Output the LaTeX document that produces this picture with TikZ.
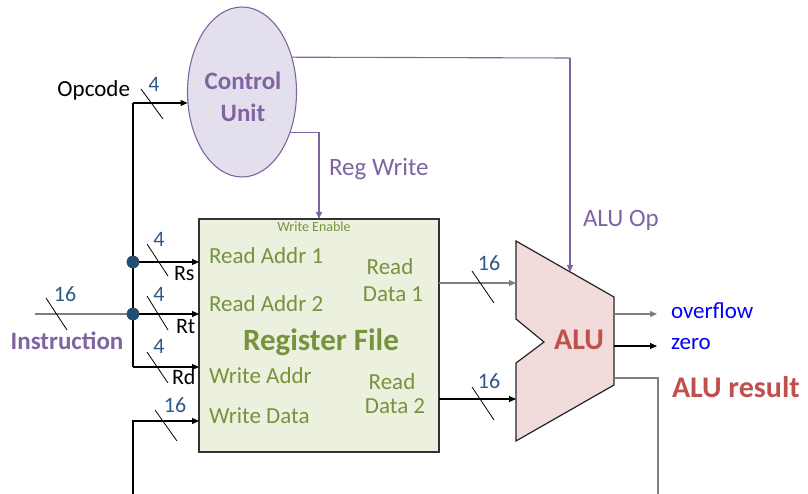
\documentclass[tikz,border=0pt]{standalone}
\usepackage{fontspec}
\setmainfont{Carlito}
\usetikzlibrary{arrows.meta,shapes.geometric}
\definecolor{cpurple}{HTML}{8064A2}
\definecolor{cufill}{HTML}{E4DFEC}
\definecolor{rfgreen}{HTML}{77933C}
\definecolor{rffill}{HTML}{EBF1DE}
\definecolor{alured}{HTML}{C0504D}
\definecolor{alufill}{HTML}{F2DCDB}
\definecolor{numblue}{HTML}{2E5A8A}
\definecolor{dotblue}{HTML}{1F4E79}
\definecolor{wgray}{HTML}{7F7F7F}
\begin{document}
\begin{tikzpicture}[x=1pt,y=-1pt,
  every node/.style={inner sep=0pt, outer sep=0pt},
  fsz/.style={font=\fontsize{#1}{#1}\selectfont},
  bfsz/.style={font=\fontsize{#1}{#1}\selectfont\bfseries},
  arr/.style={-{Triangle[length=7pt,width=6pt]}, line width=1.1pt},
  wire/.style={line width=1.1pt},
  slash/.style={line width=0.8pt},
  num/.style={fsz=22, text=numblue, anchor=base},
  sig/.style={fsz=22, text=black, anchor=base west},
  rflbl/.style={fsz=23, text=rfgreen, anchor=base west},
  rfout/.style={fsz=23, text=rfgreen, anchor=base},
  dot/.style={circle, fill=dotblue, draw=black!70, line width=0.6pt, minimum size=12pt}]
\useasboundingbox (0,0) rectangle (808,494);

% ---------- blocks ----------
\node[ellipse, draw=cpurple, fill=cufill, line width=1.1pt, minimum width=109pt, minimum height=170pt] (cu) at (242,92) {};
\node[bfsz=25, text=cpurple, anchor=base] (cut1) at (243,90) {Control};
\node[bfsz=25, text=cpurple, anchor=base] (cut2) at (243,122) {Unit};

\node[draw=black!80, fill=rffill, line width=1.5pt, minimum width=240pt, minimum height=233pt] (rf) at (319,335.5) {};
\node[fsz=14, text=rfgreen, anchor=base] (we) at (314,232) {Write Enable};
\node[rflbl] (ra1) at (209,264) {Read Addr 1};
\node[rflbl] (ra2) at (209,311) {Read Addr 2};
\node[rflbl] (wa) at (209,383) {Write Addr};
\node[rflbl] (wdl) at (209,423) {Write Data};
\node[bfsz=31, text=rfgreen, anchor=base] (rft) at (321,350) {Register File};
\node[rfout] (rd1a) at (390,275) {Read};
\node[rfout] (rd1b) at (393,301) {Data 1};
\node[rfout] (rd2a) at (392,389) {Read};
\node[rfout] (rd2b) at (395,413) {Data 2};

\draw[fill=alufill, draw=black!85, line width=1.2pt]
  (516,241) -- (614,297) -- (614,385) -- (516,441) -- (516,363) -- (544,342) -- (516,319) -- cycle;
\node[bfsz=30, text=alured, anchor=base] (alut) at (579,349) {ALU};

% ---------- coordinates ----------
\coordinate (jop) at (133,103);
\node[dot] (jrs) at (133,262) {};
\node[dot] (jrt) at (133,314) {};
\coordinate (jrd) at (133,367);
\coordinate (inst) at (35,314);
\coordinate (wdb) at (133,494);
\coordinate (wd) at (133,421);
\coordinate (aluA) at (516,283);
\coordinate (aluB) at (516,399);
\coordinate (aluop) at (570,272);
\coordinate (opc) at (570,58);
\coordinate (ovs) at (614,314);
\coordinate (ove) at (657,314);
\coordinate (zes) at (614,346);
\coordinate (zee) at (657,346);
\coordinate (res) at (614,378);
\coordinate (reb) at (658,494);

% ---------- wires ----------
\draw[arr] (jop) -- (jop -| cu.west);
\draw[wire] (jop) -- (jrs.center) -- (jrt.center) -- (jrd);
\draw[arr] (jrs.center) -- (jrs.center -| rf.west);
\draw[arr] (jrt.center) -- (jrt.center -| rf.west);
\draw[arr] (jrd) -- (jrd -| rf.west);
\draw[wire, wgray] (inst) -- (jrt.center);
\node[dot] at (jrs) {};
\node[dot] at (jrt) {};
\draw[arr] (wdb) -- (wd) -- (wd -| rf.west);
\draw[arr, wgray] (aluA -| rf.east) -- (aluA);
\draw[arr] (aluB -| rf.east) -- (aluB);
\draw[arr, cpurple] (cu.-40) -| (rf.north);
\draw[wire, cpurple] (cu.35) -- (opc);
\draw[arr, cpurple] (opc) -- (aluop);
\draw[arr, wgray] (ovs) -- (ove);
\draw[arr] (zes) -- (zee);
\draw[wire, wgray] (res) -| (reb);

% ---------- slashes ----------
\draw[slash] (141,89) -- (163,119);
\draw[slash] (147,244) -- (168,276);
\draw[slash] (147,296) -- (168,330);
\draw[slash] (147,352) -- (168,383);
\draw[slash] (46,298) -- (67,330);
\draw[slash] (155,410) -- (177,441);
\draw[slash] (472,271) -- (494,303);
\draw[slash] (472,387) -- (494,420);

% ---------- labels ----------
\node[fsz=23, anchor=base east] (opl) at (130,97) {Opcode};
\node[num] (n1) at (154,92) {4};
\node[num] (n2) at (159,247) {4};
\node[num] (n3) at (159,301) {4};
\node[num] (n4) at (159,353) {4};
\node[num] (n5) at (65,301) {16};
\node[num] (n6) at (175,412) {16};
\node[num] (n7) at (489,271) {16};
\node[num] (n8) at (489,388) {16};
\node[sig] (rs) at (174,280) {Rs};
\node[sig] (rt) at (176,333) {Rt};
\node[sig] (rdl) at (172,384) {Rd};
\node[bfsz=25, text=cpurple, anchor=base] (instl) at (67,349) {Instruction};
\node[fsz=25, text=cpurple, anchor=base west] (rw) at (329,176) {Reg Write};
\node[fsz=25, text=cpurple, anchor=base west] (aop) at (583,227) {ALU Op};
\node[fsz=23, text=blue, anchor=base west] (ovl) at (671,318) {overflow};
\node[fsz=23, text=blue, anchor=base west] (zel) at (671,349) {zero};
\node[bfsz=30, text=alured, anchor=base west] (resl) at (672,397) {ALU result};
\end{tikzpicture}
\end{document}
